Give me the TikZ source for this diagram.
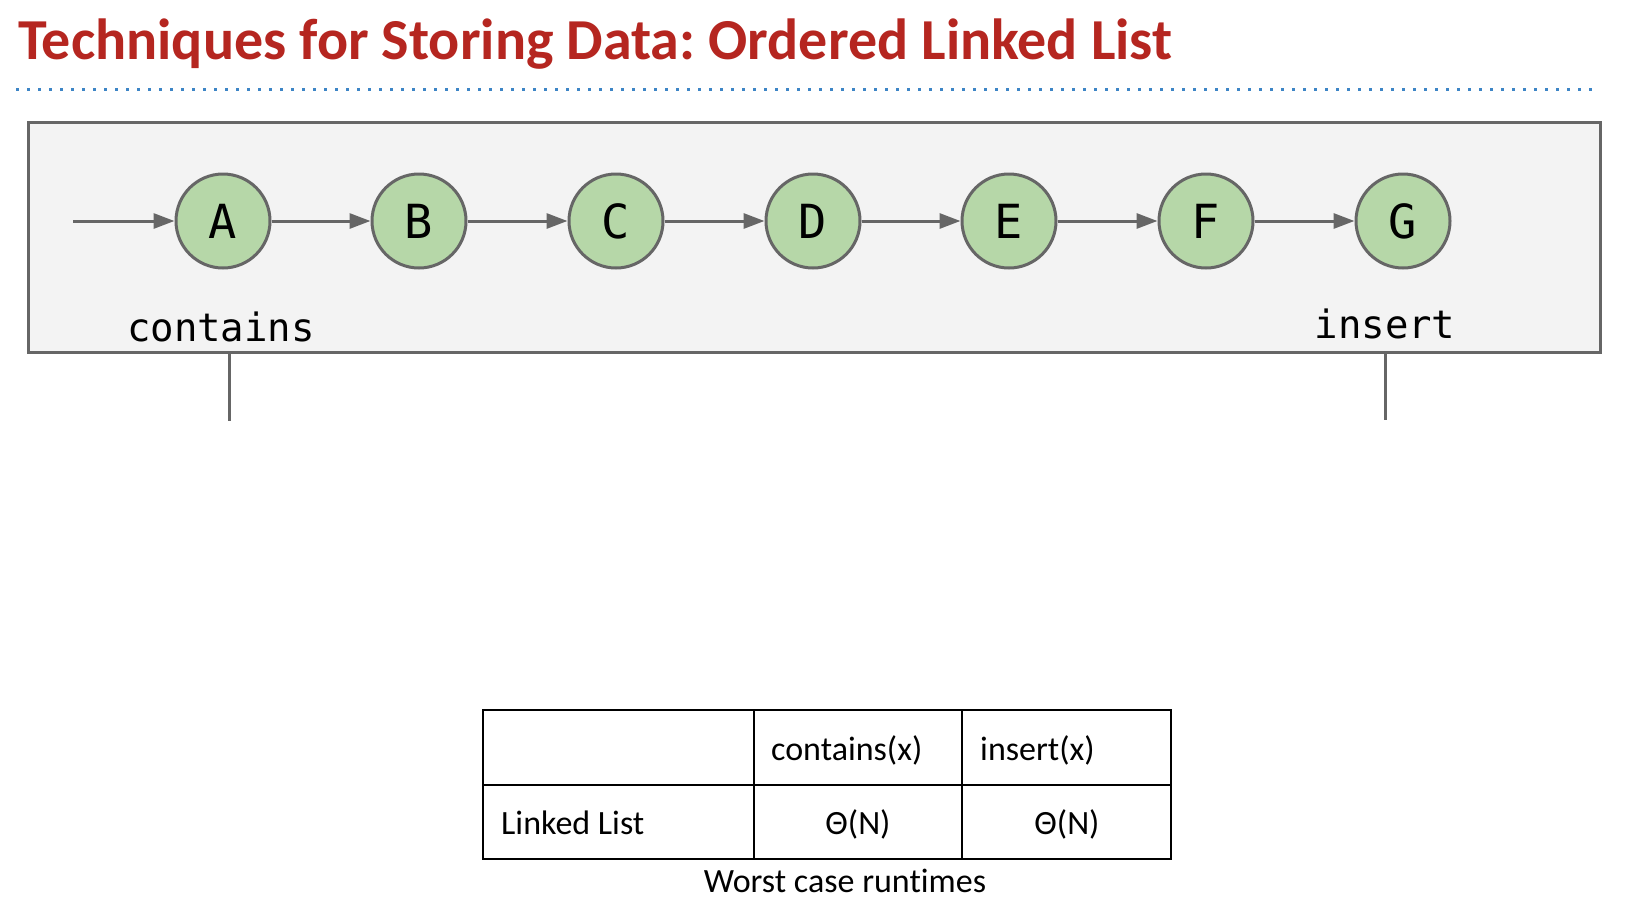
\documentclass[tikz,border=0pt]{standalone}
\usepackage{fontspec}
\setmainfont{Carlito}[Ligatures=NoCommon]
\newfontfamily\codefont{DejaVu Sans Mono}
\usetikzlibrary{positioning, arrows.meta}
\frenchspacing
\definecolor{titelrot}{RGB}{181,38,32}
\definecolor{punktblau}{RGB}{61,133,198}
\definecolor{randgrau}{RGB}{102,102,102}
\definecolor{flaeche}{RGB}{243,243,243}
\definecolor{knotengruen}{RGB}{182,215,168}
\tikzset{
    rahmen/.style  = {draw=randgrau, fill=flaeche, line width=3pt, inner sep=0pt},
    knoten/.style  = {circle, draw=randgrau, fill=knotengruen, line width=3pt,
                      minimum size=94pt, inner sep=0pt,
                      font=\fontsize{47}{47}\selectfont\codefont},
    link/.style    = {-{Triangle[length=21pt, width=15pt]}, draw=randgrau, line width=3pt},
    strich/.style  = {draw=randgrau, line width=3pt},
    beschr/.style  = {font=\fontsize{39}{39}\selectfont\codefont, inner sep=0pt},
    zelle/.style   = {font=\fontsize{34}{34}\selectfont, inner sep=0pt},
    tablinie/.style = {draw=black, line width=2pt}
}

\begin{document}
\begin{tikzpicture}[x=1pt, y=-1pt]
        \useasboundingbox (0,0) rectangle (1640,910);

        % --- Titel ---
        \node[anchor=base west, inner sep=0pt, text=titelrot,
              font=\fontsize{58}{58}\selectfont\bfseries] (titel) at (18,59)
              {Techniques for Storing Data: Ordered Linked List};
        \draw[punktblau, line width=3pt, dash pattern=on 3pt off 8pt] (16,89) -- (1595,89);

        % --- Liste ---
        \node[rahmen, minimum width=1572pt, minimum height=230pt] (liste) at (814,237) {};
        \coordinate (start) at (73,221);
        \node[knoten] (a) at (223,221)  {A};
        \node[knoten] (b) at (419,221)  {B};
        \node[knoten] (c) at (616,221)  {C};
        \node[knoten] (d) at (813,221)  {D};
        \node[knoten] (e) at (1009,221) {E};
        \node[knoten] (f) at (1206,221) {F};
        \node[knoten] (g) at (1403,221) {G};

        \draw[link] (start) -- (a);
        \draw[link] (a) -- (b);
        \draw[link] (b) -- (c);
        \draw[link] (c) -- (d);
        \draw[link] (d) -- (e);
        \draw[link] (e) -- (f);
        \draw[link] (f) -- (g);

        \node[beschr, anchor=base] (contains) at (221,341)  {contains};
        \node[beschr, anchor=base] (insert)   at (1385,338) {insert};
        \coordinate (cfuss) at (229,421);
        \coordinate (ifuss) at (1385,420);
        \draw[strich] (liste.south -| cfuss) -- (cfuss);
        \draw[strich] (liste.south -| ifuss) -- (ifuss);

        % --- Tabelle ---
        \draw[tablinie] (483,710) rectangle (1171,859);
        \draw[tablinie] (483,785) -- (1171,785);
        \draw[tablinie] (754,710) -- (754,859);
        \draw[tablinie] (962,710) -- (962,859);

        \node[zelle, anchor=base west] (kopf1) at (771,760)  {contains(x)};
        \node[zelle, anchor=base west] (kopf2) at (980,760)  {insert(x)};
        \node[zelle, anchor=base west] (zeile) at (501,834)  {Linked List};
        \node[zelle, anchor=base]      (wert1) at (858,834)  {Θ(N)};
        \node[zelle, anchor=base]      (wert2) at (1067,834) {Θ(N)};
        \node[zelle, anchor=base]      (unter) at (845,892)  {Worst case runtimes};
    \end{tikzpicture}
\end{document}
